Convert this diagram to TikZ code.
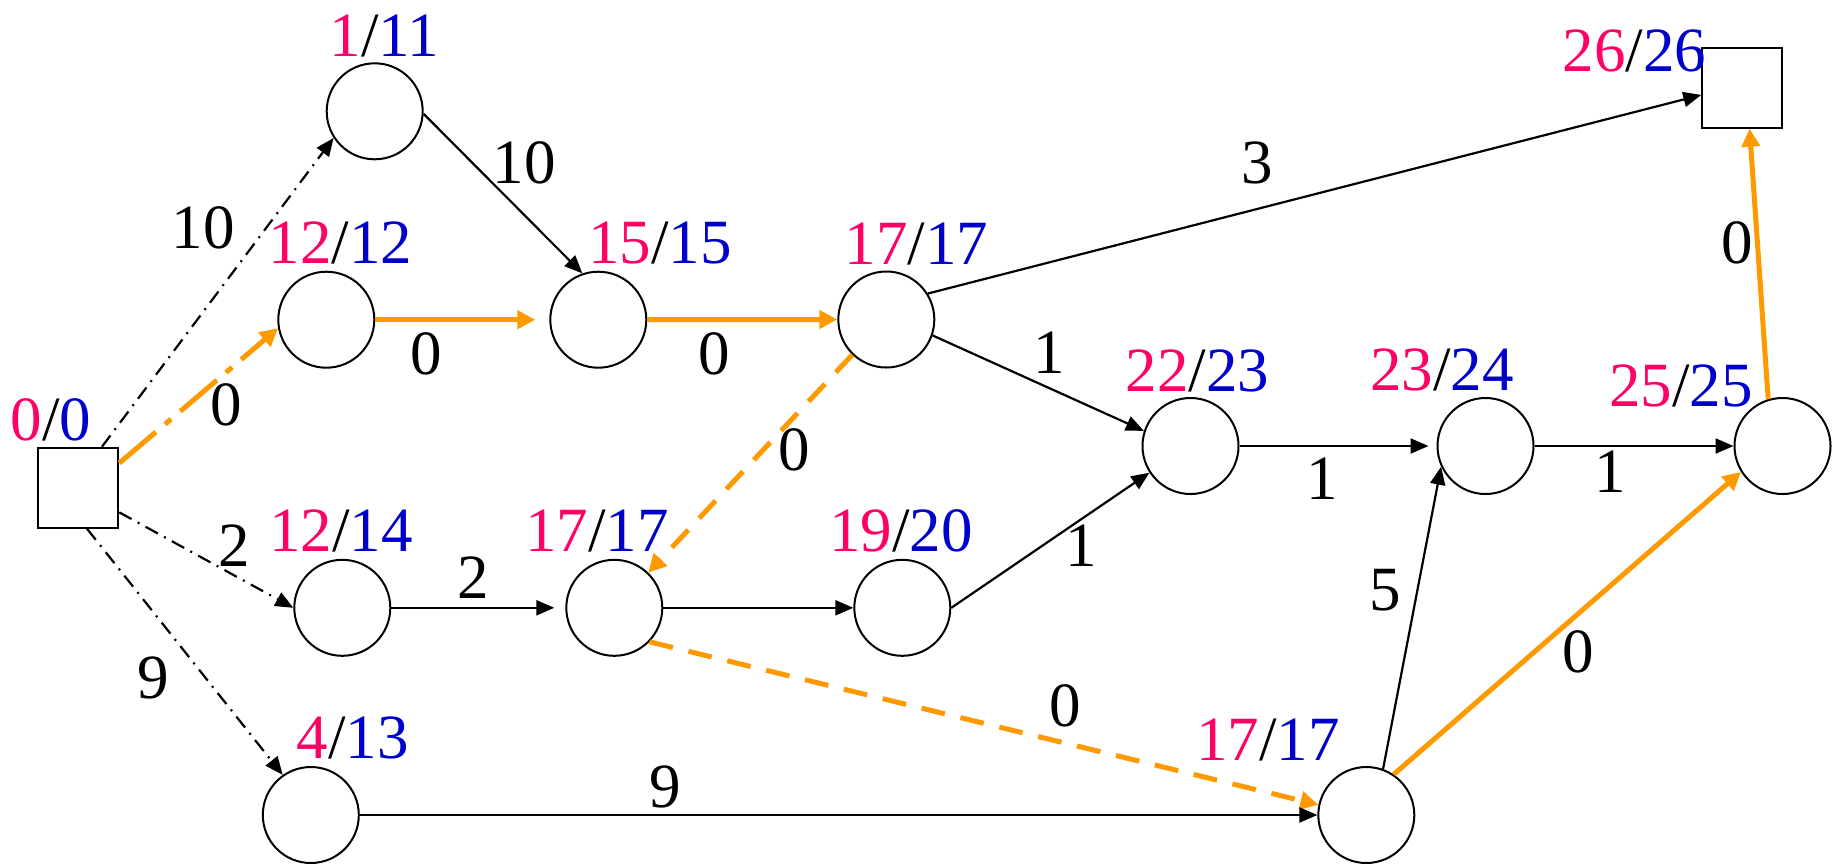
\documentclass[tikz,border=0pt]{standalone}
\usepackage{fontspec}
\setmainfont{Liberation Serif}
\usetikzlibrary{arrows.meta}
\definecolor{nred}{RGB}{255,0,102}
\definecolor{nblue}{RGB}{0,0,204}
\definecolor{nor}{RGB}{255,153,0}
\begin{document}
\begin{tikzpicture}[x=0.5pt,y=-0.5pt,
  font=\fontsize{31.5}{36}\selectfont,
  circ/.style={circle,draw,line width=1pt,minimum size=48pt,inner sep=0pt},
  sq/.style={rectangle,draw,line width=1pt,minimum size=40pt,inner sep=0pt},
  tag/.style={anchor=base,inner sep=0pt},
  lbl/.style={inner sep=0pt},
  blk/.style={line width=1.1pt,-{Triangle[length=9pt,width=7.5pt]}},
  bdd/.style={blk,dash pattern=on 7pt off 3.5pt on 1pt off 3.5pt},
  org/.style={draw=nor,line width=2.5pt,-{Triangle[length=9pt,width=9pt]}},
  odd/.style={org,dash pattern=on 12pt off 8pt},
  odt/.style={org,dash pattern=on 24pt off 6pt on 4pt off 6pt}]
\useasboundingbox (0,0) rectangle (1839,863);
% nodes
\node[sq]   (S) at (78.3,487.7) {};
\node[circ] (A) at (374.7,111.3) {};
\node[circ] (B) at (326.3,319.7) {};
\node[circ] (C) at (598.3,319.7) {};
\node[circ] (D) at (886.3,319.5) {};
\node[circ] (E) at (342.3,607.8) {};
\node[circ] (F) at (614.3,607.8) {};
\node[circ] (G) at (902.3,607.8) {};
\node[circ] (H) at (310.8,815) {};
\node[circ] (I) at (1190.5,446) {};
\node[circ] (J) at (1485.5,446) {};
\node[circ] (K) at (1782.5,446) {};
\node[circ] (L) at (1366.3,815) {};
\node[sq]   (T) at (1742.3,87.7) {};
% time tags
\node[tag] (tS) at (50.8,440) {\textcolor{nred}{0}/\textcolor{nblue}{0}};
\node[tag] (tA) at (384.5,56) {\textcolor{nred}{1}/\textcolor{nblue}{11}};
\node[tag] (tB) at (340.3,263) {\textcolor{nred}{12}/\textcolor{nblue}{12}};
\node[tag] (tC) at (660,263) {\textcolor{nred}{15}/\textcolor{nblue}{15}};
\node[tag] (tD) at (916.7,264) {\textcolor{nred}{17}/\textcolor{nblue}{17}};
\node[tag] (tE) at (341,551.7) {\textcolor{nred}{12}/\textcolor{nblue}{14}};
\node[tag] (tF) at (597,551.7) {\textcolor{nred}{17}/\textcolor{nblue}{17}};
\node[tag] (tG) at (901,551.7) {\textcolor{nred}{19}/\textcolor{nblue}{20}};
\node[tag] (tH) at (352.5,758.3) {\textcolor{nred}{4}/\textcolor{nblue}{13}};
\node[tag] (tI) at (1197.5,391.7) {\textcolor{nred}{22}/\textcolor{nblue}{23}};
\node[tag] (tJ) at (1442,390.7) {\textcolor{nred}{23}/\textcolor{nblue}{24}};
\node[tag] (tK) at (1681,406) {\textcolor{nred}{25}/\textcolor{nblue}{25}};
\node[tag] (tL) at (1268.2,760) {\textcolor{nred}{17}/\textcolor{nblue}{17}};
\node[tag] (tT) at (1634.5,71.7) {\textcolor{nred}{26}/\textcolor{nblue}{26}};
% edges
\draw[bdd] (S.60) -- (A.213);
\draw[odt] (S.31) -- (B.190);
\draw[bdd] (S.-31) -- (E.west);
\draw[bdd] (S.-78) -- (H.125);
\draw[blk] (A.-3) -- (C.109);
\draw[org,shorten >=7pt] (B.east) -- (C.west);
\draw[org] (C.east) -- (D.west);
\draw[blk] (D.32) -- (T.190);
\draw[blk] (D.-19) -- (I.162);
\draw[odd] (D.226) -- (F.46);
\draw[blk,shorten >=5.5pt] (E.east) -- (F.west);
\draw[blk] (F.east) -- (G.west);
\draw[odd] (F.-44) -- (L.168);
\draw[blk] (G.east) -- (I.213);
\draw[blk] (H.east) -- (L.west);
\draw[blk,shorten >=4pt] (I.east) -- (J.west);
\draw[blk] (J.east) -- (K.west);
\draw[blk] (L.70) -- (J.205);
\draw[org] (L.56) -- (K.212);
\draw[org] (K.107) -- (T.-80);
% edge labels
\node[lbl] (lSA) at (203,228) {10};
\node[lbl] (lSB) at (226,405) {0};
\node[lbl] (lSE) at (234,546) {2};
\node[lbl] (lSH) at (153,678) {9};
\node[lbl] (lAC) at (524,162.5) {10};
\node[lbl] (lBC) at (426,354) {0};
\node[lbl] (lCD) at (714,354) {0};
\node[lbl] (lDT) at (1257.6,162.5) {3};
\node[lbl] (lDI) at (1049,353) {1};
\node[lbl] (lDF) at (794,450) {0};
\node[lbl] (lEF) at (473,578) {2};
\node[lbl] (lGI) at (1081.7,546) {1};
\node[lbl] (lIJ) at (1322,479) {1};
\node[lbl] (lJK) at (1610,472) {1};
\node[lbl] (lLJ) at (1385,590) {5};
\node[lbl] (lLK) at (1578,652) {0};
\node[lbl] (lKT) at (1737,243) {0};
\node[lbl] (lHL) at (665.5,786.5) {9};
\node[lbl] (lFL) at (1065,706) {0};
\end{tikzpicture}
\end{document}
